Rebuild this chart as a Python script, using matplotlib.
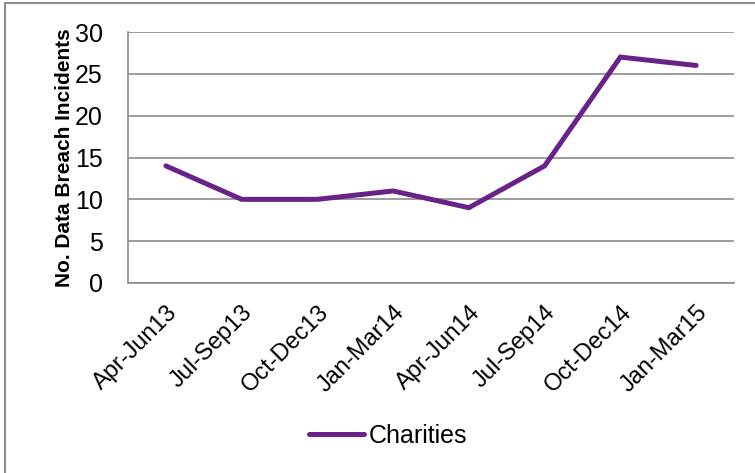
import matplotlib
matplotlib.use("Agg")
import matplotlib.pyplot as plt
from matplotlib.patches import Rectangle

categories = ["Apr-Jun13", "Jul-Sep13", "Oct-Dec13", "Jan-Mar14",
              "Apr-Jun14", "Jul-Sep14", "Oct-Dec14", "Jan-Mar15"]
charities = [14, 10, 10, 11, 9, 14, 27, 26]
yticks = [0, 5, 10, 15, 20, 25, 30]

plt.rcParams['font.family'] = ['Liberation Sans', 'DejaVu Sans']

W, H = 755, 473
fig = plt.figure(figsize=(W / 100, H / 100), dpi=100)
fig.patch.set_facecolor("white")

# outer chart border (only left and top edges visible in the crop)
fig.add_artist(Rectangle((5 / W, -0.1), 1.2, (H - 3) / H + 0.1,
                         transform=fig.transFigure, fill=False,
                         edgecolor="#8c8c8c", linewidth=1.5))

ax = fig.add_axes([128 / W, 1 - 283 / H, (734 - 128) / W, (283 - 32) / H])
x = list(range(len(categories)))
ax.plot(x, charities, color="#68228a", linewidth=3.6, solid_capstyle="round",
        solid_joinstyle="miter", label="Charities", zorder=3)

ax.set_xlim(-0.5, len(categories) - 0.5)
ax.set_ylim(0, 30)
ax.set_yticks(yticks)
ax.set_xticks(x)
ax.set_xticklabels(categories, rotation=45, ha="right", rotation_mode="anchor",
                   fontsize=17)
ax.tick_params(axis="y", labelsize=18, length=0, pad=18)
ax.tick_params(axis="x", length=0, pad=13)
ax.grid(axis="y", color="#8c8c8c", linewidth=1.2)
ax.set_axisbelow(True)
for s in ["top", "right"]:
    ax.spines[s].set_visible(False)
for s in ["left", "bottom"]:
    ax.spines[s].set_color("#8c8c8c")
    ax.spines[s].set_linewidth(1.2)

ax.set_ylabel("No. Data Breach Incidents", fontsize=15, fontweight="bold",
              labelpad=1)

fig.legend(loc="center", bbox_to_anchor=(388 / W, 1 - 436 / H), frameon=False,
           fontsize=18, handlelength=2.2, handletextpad=0.2)

fig.savefig("out.png", dpi=100)
